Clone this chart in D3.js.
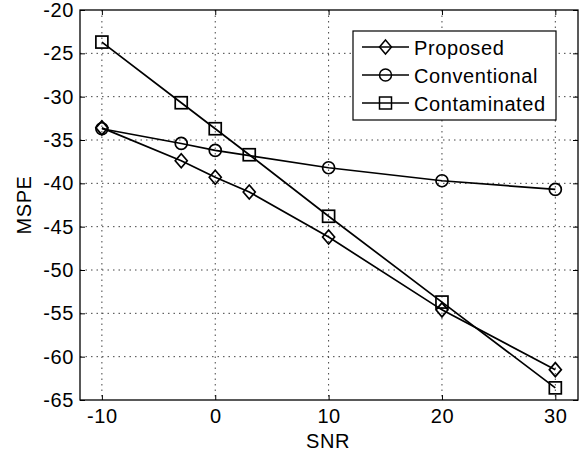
<!DOCTYPE html>
<html>
<head>
<meta charset="utf-8">
<script src="https://d3js.org/d3.v7.min.js"></script>
<style>
  html, body { margin: 0; padding: 0; background: #fff; }
  text { font-family: Arial, "Liberation Sans", sans-serif; letter-spacing: 0.6px; }
</style>
</head>
<body>
<div id="chart"></div>
<script>
// data
const snr = [-10, -3, 0, 3, 10, 20, 30];
const proposed = [-33.6, -37.4, -39.3, -41.0, -46.2, -54.6, -61.5];
const conventionalSnr = [-10, -3, 0, 10, 20, 30];
const conventional = [-33.7, -35.4, -36.2, -38.2, -39.7, -40.7];
const contaminated = [-23.7, -30.7, -33.7, -36.7, -43.8, -53.7, -63.6];
const xTicks = [-10, 0, 10, 20, 30];
const yTicks = [-20, -25, -30, -35, -40, -45, -50, -55, -60, -65];

const width = 579, height = 454;
const axLeft = 80, axRight = 578, axTop = 10, axBottom = 400;
const fs = 20;

const svg = d3.select("#chart").append("svg")
  .attr("width", width).attr("height", height);

const x = d3.scaleLinear().domain([-11.93, 32]).range([axLeft, axRight]);
const y = d3.scaleLinear().domain([-65, -20]).range([axBottom, axTop]);

// grid lines, dotted
const grid = svg.append("g").attr("stroke", "#444").attr("stroke-width", 1)
  .attr("stroke-dasharray", "1.5,4");
grid.selectAll(".gx").data(xTicks).enter().append("line")
  .attr("x1", d => x(d)).attr("x2", d => x(d))
  .attr("y1", axTop).attr("y2", axBottom);
grid.selectAll(".gy").data(yTicks.filter(d => d != -20 && d != -65)).enter().append("line")
  .attr("y1", d => y(d)).attr("y2", d => y(d))
  .attr("x1", axLeft).attr("x2", axRight);

// axes with inward ticks
svg.append("g").attr("transform", `translate(0,${axBottom})`)
  .call(d3.axisBottom(x).tickValues(xTicks).tickSize(-5).tickPadding(9))
  .call(g => g.select(".domain").remove());
svg.append("g").attr("transform", `translate(0,${axTop})`)
  .call(d3.axisTop(x).tickValues(xTicks).tickSize(-5).tickFormat(""))
  .call(g => g.select(".domain").remove());
svg.append("g").attr("transform", `translate(${axLeft},0)`)
  .call(d3.axisLeft(y).tickValues(yTicks).tickSize(-5).tickPadding(6))
  .call(g => g.select(".domain").remove());
svg.append("g").attr("transform", `translate(${axRight},0)`)
  .call(d3.axisRight(y).tickValues(yTicks).tickSize(-5).tickFormat(""))
  .call(g => g.select(".domain").remove());

svg.selectAll(".tick line").attr("stroke", "#000");
svg.selectAll(".tick text").attr("font-size", fs).attr("fill", "#000")
  .text(function () { return d3.select(this).text().replace("\u2212", "-"); });

// box
svg.append("rect").attr("x", axLeft).attr("y", axTop)
  .attr("width", axRight - axLeft).attr("height", axBottom - axTop)
  .attr("fill", "none").attr("stroke", "#000").attr("stroke-width", 1.3);

// axis labels
svg.append("text").attr("x", 328).attr("y", 448)
  .attr("text-anchor", "middle").attr("font-size", fs).text("SNR");
svg.append("text").attr("transform", `translate(31,${(axTop + axBottom) / 2}) rotate(-90)`)
  .attr("text-anchor", "middle").attr("font-size", fs).text("MSPE");

// markers
function marker(g, type, cx, cy) {
  if (type === "diamond") {
    g.append("path").attr("d", `M${cx},${cy - 7}L${cx + 6},${cy}L${cx},${cy + 7}L${cx - 6},${cy}Z`);
  } else if (type === "circle") {
    g.append("circle").attr("cx", cx).attr("cy", cy).attr("r", 6);
  } else {
    g.append("rect").attr("x", cx - 6).attr("y", cy - 6).attr("width", 12).attr("height", 12);
  }
}

const series = [
  { name: "Proposed", xs: snr, ys: proposed, m: "diamond" },
  { name: "Conventional", xs: conventionalSnr, ys: conventional, m: "circle" },
  { name: "Contaminated", xs: snr, ys: contaminated, m: "square" }
];

const line = d3.line().x(d => x(d[0])).y(d => y(d[1]));
series.forEach(s => {
  const pts = s.xs.map((v, i) => [v, s.ys[i]]);
  const g = svg.append("g").attr("fill", "none").attr("stroke", "#000").attr("stroke-width", 1.7);
  g.append("path").datum(pts).attr("d", line);
  pts.forEach(p => marker(g, s.m, x(p[0]), y(p[1])));
});

// legend
const lg = svg.append("g");
lg.append("rect").attr("x", 353).attr("y", 31).attr("width", 203).attr("height", 89)
  .attr("fill", "#fff").attr("stroke", "#000").attr("stroke-width", 1.2);
series.forEach((s, i) => {
  const ly = 47 + i * 28;
  const g = lg.append("g").attr("fill", "none").attr("stroke", "#000").attr("stroke-width", 1.5);
  g.append("line").attr("x1", 362).attr("x2", 409).attr("y1", ly).attr("y2", ly);
  marker(g, s.m, 385.5, ly);
  lg.append("text").attr("x", 414).attr("y", ly + 8).attr("font-size", fs).text(s.name);
});
</script>
</body>
</html>
